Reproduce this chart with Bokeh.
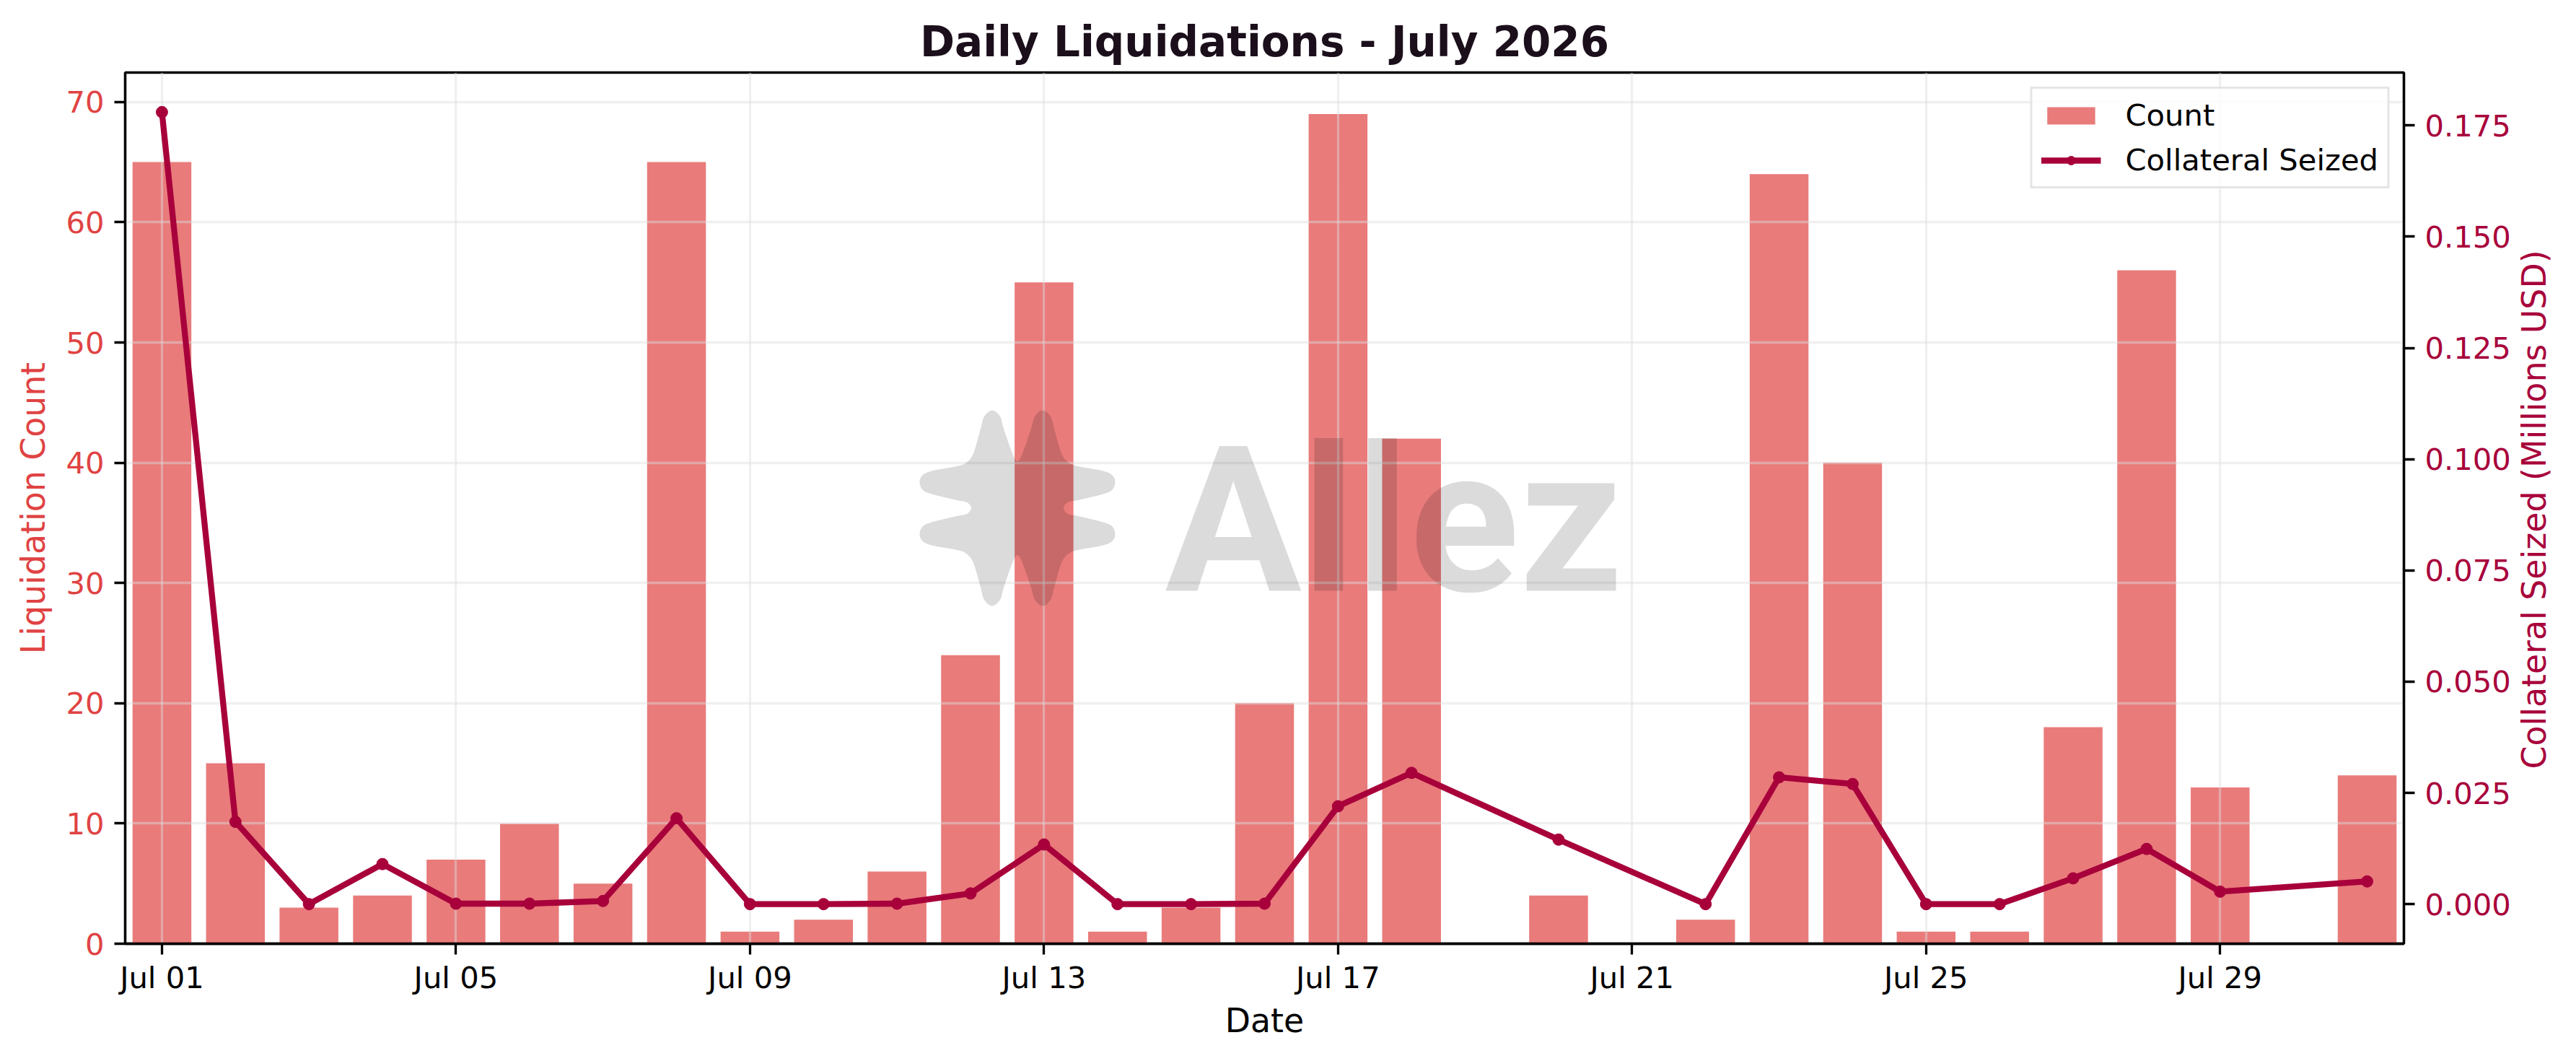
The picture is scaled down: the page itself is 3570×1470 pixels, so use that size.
import numpy as np
import pandas as pd
from bokeh.plotting import figure
from bokeh.layouts import row
from bokeh.models import (Range1d, LinearAxis, FixedTicker, DatetimeTickFormatter,
                          PrintfTickFormatter, Div)
from bokeh.core.properties import value
from bokeh.embed import file_html
from bokeh.resources import INLINE

# ---------------- data ----------------
chart_title = "Daily Liquidations - July 2026"
dates = ["2026-07-01", "2026-07-02", "2026-07-03", "2026-07-04", "2026-07-05",
         "2026-07-06", "2026-07-07", "2026-07-08", "2026-07-09", "2026-07-10",
         "2026-07-11", "2026-07-12", "2026-07-13", "2026-07-14", "2026-07-15",
         "2026-07-16", "2026-07-17", "2026-07-18", "2026-07-20", "2026-07-22",
         "2026-07-23", "2026-07-24", "2026-07-25", "2026-07-26", "2026-07-27",
         "2026-07-28", "2026-07-29", "2026-07-31"]
counts = [65, 15, 3, 4, 7, 10, 5, 65, 1, 2, 6, 24, 55, 1, 3, 20, 69, 42,
          4, 2, 64, 40, 1, 1, 18, 56, 13, 14]
collateral = [0.1780, 0.0185, 0.0000, 0.0090, 0.0001, 0.0001, 0.0007, 0.0193,
              0.0000, 0.0000, 0.0001, 0.0024, 0.0134, 0.0000, 0.0000, 0.0001,
              0.0220, 0.0295, 0.0145, 0.0000, 0.0285, 0.0270, 0.0000, 0.0000,
              0.0058, 0.0124, 0.0028, 0.0051]
date_ticks = ["2026-07-01", "2026-07-05", "2026-07-09", "2026-07-13",
              "2026-07-17", "2026-07-21", "2026-07-25", "2026-07-29"]
count_ticks = [0, 10, 20, 30, 40, 50, 60, 70]
coll_ticks = [0.0, 0.025, 0.05, 0.075, 0.1, 0.125, 0.15, 0.175]
count_label = "Liquidation Count"
coll_label = "Collateral Seized (Millions USD)"
x_label = "Date"
watermark_text = "Allez"

# ---------------- layout / style ----------------
W, H = 3490, 1454          # plot canvas; a narrow Div to its right holds the right title
DIV_W = 64
BL, BR, BT, BB = 173, 159, 100, 147
FW = W - BL - BR
FH = H - BT - BB
RED = "#e04343"
CRIM = "#a8003b"
FONT = "DejaVu Sans"
DAY = 86400000.0

def to_ms(d):
    return pd.Timestamp(d).value / 1e6

x_ms = np.array([to_ms(d) for d in dates])
tick_ms = [to_ms(d) for d in date_ticks]
x_start = x_ms.min() - 0.5 * DAY
x_end = x_ms.max() + 0.5 * DAY
y_end = 1.05 * max(counts)
cmax = max(collateral)

p = figure(width=W, height=H, x_axis_type="datetime",
           x_range=Range1d(x_start, x_end), y_range=Range1d(0, y_end),
           output_backend="svg", toolbar_location=None, title=chart_title,
           min_border_left=BL, min_border_right=BR,
           min_border_top=BT, min_border_bottom=BB)
p.extra_y_ranges = {"coll": Range1d(-0.05 * cmax, 1.05 * cmax)}
p.background_fill_color = "white"
p.border_fill_color = "white"
p.outline_line_color = "black"
p.outline_line_width = 3.3
p.outline_line_alpha = 1.0

p.title.text_font = FONT
p.title.text_font_size = "58px"
p.title.text_font_style = "bold"
p.title.align = "center"
p.title.text_color = "#1b0f1b"
p.title.standoff = 17

right = LinearAxis(y_range_name="coll", ticker=FixedTicker(ticks=coll_ticks),
                   formatter=PrintfTickFormatter(format="%.3f"))
p.add_layout(right, "right")

p.vbar(x=x_ms, top=counts, bottom=0, width=0.8 * DAY, fill_color=RED,
       fill_alpha=0.7, line_color=None, legend_label="Count", level="image")
p.line(x_ms, collateral, y_range_name="coll", line_color=CRIM, line_width=8.3,
       line_join="round", legend_label="Collateral Seized")
p.scatter(x_ms, collateral, y_range_name="coll", size=16, fill_color=CRIM,
          line_color=CRIM, legend_label="Collateral Seized")

for g in (p.xgrid, p.ygrid):
    g.grid_line_color = "#dddddd"
    g.grid_line_alpha = 0.45
    g.grid_line_width = 3.3

for ax in list(p.xaxis) + list(p.yaxis):
    ax.axis_line_color = "black"
    ax.axis_line_width = 3.3
    ax.major_tick_line_color = "black"
    ax.major_tick_line_width = 3.3
    ax.major_tick_out = 15
    ax.major_tick_in = 0
    ax.minor_tick_line_color = None
    ax.major_label_text_font = FONT
    ax.major_label_text_font_size = "41.7px"
    ax.axis_label_text_font = FONT
    ax.axis_label_text_font_size = "45.8px"
    ax.axis_label_text_font_style = "normal"

xax = p.xaxis[0]
xax.ticker = FixedTicker(ticks=tick_ms)
xax.formatter = DatetimeTickFormatter(days="%b %d", months="%b %d", hours="%b %d",
                                      years="%b %d")
xax.major_label_text_color = "black"
xax.major_label_standoff = 7
xax.axis_label = x_label
xax.axis_label_text_color = "black"
xax.axis_label_standoff = 5

lax = p.yaxis[0]
lax.ticker = FixedTicker(ticks=count_ticks)
lax.major_label_text_color = RED
lax.major_label_standoff = 14
lax.axis_label = count_label
lax.axis_label_text_color = RED
lax.axis_label_standoff = 15

right.major_label_text_color = CRIM
right.major_label_standoff = 14

ms_per_px = (x_end - x_start) / FW
u_per_px = y_end / FH

lg = p.legend[0]
lg.location = "top_right"
lg.margin = 20
lg.padding = 12
lg.spacing = 13
lg.glyph_width = 83
lg.glyph_height = 30
lg.label_height = 49
lg.label_standoff = 34
lg.label_text_font = FONT
lg.label_text_font_size = "41.7px"
lg.label_text_color = "black"
lg.border_line_color = "#cccccc"
lg.border_line_width = 3
lg.background_fill_alpha = 0.8

# watermark (logo + word), centred in the plot area
cx = (x_start + x_end) / 2
cy = y_end / 2

def catmull(points, n=10):
    P = np.array(points, float)
    N = len(P)
    out = []
    for i in range(N):
        p0, p1, p2, p3 = P[i - 1], P[i], P[(i + 1) % N], P[(i + 2) % N]
        for t in np.linspace(0, 1, n, endpoint=False):
            t2, t3 = t * t, t * t * t
            out.append(0.5 * (2 * p1 + (-p0 + p2) * t
                              + (2 * p0 - 5 * p1 + 4 * p2 - p3) * t2
                              + (-p0 + 3 * p1 - 3 * p2 + p3) * t3))
    return np.array(out)

quarter = [(0, -65), (7, -76), (19, -110), (24, -127), (35, -135.5), (46, -127),
           (51, -110), (61, -76), (71, -63), (84, -58), (117, -52), (131, -46),
           (135.5, -36), (131, -25), (117, -19), (84, -11), (70, -8), (64, 0)]
right_half = quarter + [(a, -b) for (a, b) in reversed(quarter[:-1])]
outline = right_half + [(-a, b) for (a, b) in reversed(right_half[1:-1])]
curve = catmull(outline, 8)
logo_dx = -342.5
xs = cx + (logo_dx + curve[:, 0]) * ms_per_px
ys = cy - curve[:, 1] * u_per_px
p.patch(xs, ys, fill_color="black", fill_alpha=0.14, line_color=None, level="overlay")
p.text(x=[cx - 138 * ms_per_px], y=[cy - 18 * u_per_px], text=[watermark_text],
       text_font=value("Roboto"), text_font_style="bold", text_font_size="282px",
       text_color="black", text_alpha=0.14, text_align="left",
       text_baseline="alphabetic", level="overlay")

# right-hand axis title, reading bottom-to-top, centred on the plot frame
frame_mid_y = BT + FH / 2
title_html = (
    f'<div style="position:relative;width:{DIV_W}px;height:{H}px;">'
    f'<div style="position:absolute;left:22px;top:{frame_mid_y + 2:.0f}px;'
    f'transform:translate(-50%,-50%) rotate(-90deg);white-space:nowrap;'
    f"font-family:'DejaVu Sans';font-size:45.8px;line-height:normal;color:{CRIM};\">"
    f'{coll_label}</div></div>'
)
div = Div(text=title_html, width=DIV_W, height=H, margin=0)

layout = row(p, div)
open("out.html", "w").write(file_html(layout, INLINE))
